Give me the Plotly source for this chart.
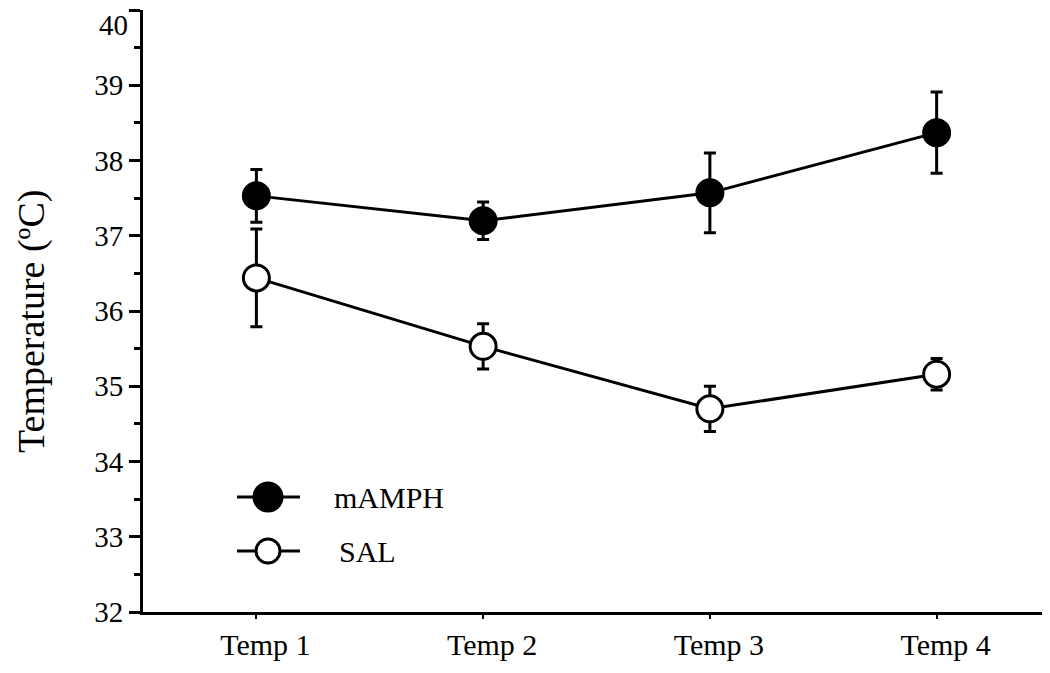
import plotly.graph_objects as go

categories = ["Temp 1", "Temp 2", "Temp 3", "Temp 4"]
mamph_mean = [37.53, 37.20, 37.57, 38.37]
mamph_err = [0.35, 0.25, 0.53, 0.54]
sal_mean = [36.44, 35.53, 34.70, 35.16]
sal_err = [0.65, 0.30, 0.30, 0.21]
y_ticks = [32, 33, 34, 35, 36, 37, 38, 39, 40]
y_ticktext = [str(v) for v in y_ticks]
series_names = ["mAMPH", "SAL"]

xpos = list(range(len(categories)))
FONT = "Liberation Serif, Times New Roman, serif"

fig = go.Figure()
fig.add_trace(go.Scatter(
    x=xpos, y=mamph_mean, mode="lines+markers", name=series_names[0],
    line=dict(color="black", width=3),
    marker=dict(size=27, color="black", line=dict(color="black", width=2)),
    error_y=dict(type="data", array=mamph_err, color="black", thickness=3, width=6),
    showlegend=False,
))
fig.add_trace(go.Scatter(
    x=xpos, y=sal_mean, mode="lines+markers", name=series_names[1],
    line=dict(color="black", width=3),
    marker=dict(size=26, color="white", line=dict(color="black", width=3)),
    error_y=dict(type="data", array=sal_err, color="black", thickness=3, width=6),
    showlegend=False,
))

# page body has an 8px margin: compensate so the plot lands where the reference has it
OFF = 8
L, R, T, B = 143 - OFF, 0, 10 - OFF, 61
W, H = 1050 - OFF, 673 - OFF
pw, ph = W - L - R, H - T - B

def px(x):
    # window pixel -> paper fraction
    return (x - OFF - L) / pw

def py(y):
    return (H - B - (y - OFF)) / ph

shapes = []
annotations = []
legend_rows = [(series_names[0], 497, "black", 14, 332), (series_names[1], 551, "white", 12, 337)]
for name, yy, fill, rad, tx in legend_rows:
    shapes.append(dict(type="line", xref="paper", yref="paper",
                       x0=px(237), x1=px(300), y0=py(yy), y1=py(yy),
                       line=dict(color="black", width=3)))
    shapes.append(dict(type="circle", xref="paper", yref="paper",
                       xsizemode="pixel", ysizemode="pixel",
                       xanchor=px(268), yanchor=py(yy),
                       x0=-rad, x1=rad, y0=-rad, y1=rad,
                       fillcolor=fill, line=dict(color="black", width=3)))
    annotations.append(dict(text=name, xref="paper", yref="paper",
                            x=px(tx), y=py(yy), xanchor="left", yanchor="middle",
                            showarrow=False, font=dict(family=FONT, size=30, color="black")))

annotations.append(dict(text="Temperature (ºC)", xref="paper", yref="paper",
                        x=px(31), y=py(322), xanchor="center", yanchor="middle",
                        textangle=-90, showarrow=False,
                        font=dict(family=FONT, size=38, color="black")))

# the top tick label would fall above the page edge; draw it just inside
top_label = y_ticktext[-1]
y_ticktext[-1] = ""
annotations.append(dict(text=top_label, xref="paper", yref="paper",
                        x=px(129), y=py(OFF), xanchor="right", yanchor="top",
                        showarrow=False, borderpad=0,
                        font=dict(family=FONT, size=29, color="black")))

fig.update_layout(
    width=W, height=H,
    margin=dict(l=L, r=R, t=T, b=B, autoexpand=False),
    paper_bgcolor="white", plot_bgcolor="white",
    font=dict(family=FONT, color="black"),
    shapes=shapes, annotations=annotations,
    showlegend=False,
)
fig.update_xaxes(
    range=[-0.5, 3.5], tickvals=xpos, ticktext=categories,
    showline=True, linecolor="black", linewidth=3,
    ticks="outside", ticklen=4, tickwidth=2, tickcolor="black",
    showgrid=False, zeroline=False, ticklabelshift=9, automargin=False,
    tickfont=dict(family=FONT, size=30, color="black"),
)
fig.update_yaxes(
    range=[32, 40], tickvals=y_ticks, ticktext=y_ticktext,
    showline=True, linecolor="black", linewidth=3,
    ticks="outside", ticklen=11, tickwidth=3, tickcolor="black",
    minor=dict(dtick=0.5, ticks="outside", ticklen=6, tickwidth=3, tickcolor="black"),
    showgrid=False, zeroline=False, automargin=False, ticklabeloverflow="allow",
    tickfont=dict(family=FONT, size=29, color="black"),
)

fig.write_html("out.html")
